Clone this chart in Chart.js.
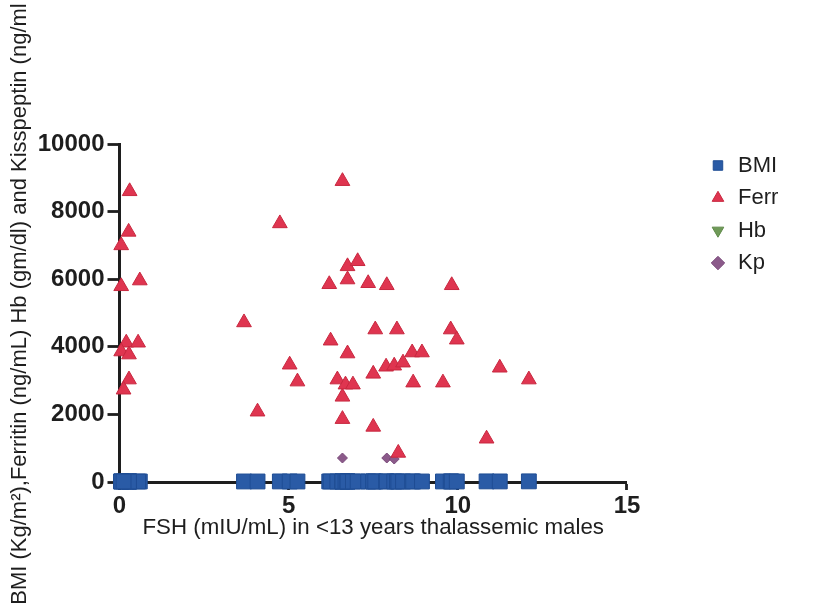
<!DOCTYPE html>
<html><head><meta charset="utf-8">
<script src="https://cdn.jsdelivr.net/npm/chart.js@4.4.1/dist/chart.umd.min.js"></script>
<style>html,body{margin:0;padding:0;background:#fff;overflow:hidden;}#wrap{width:817px;height:613px;}</style>
</head><body><div id="wrap"><canvas id="c" width="817" height="613"></canvas></div>
<script>
// FSH (mIU/mL) of each patient
const fsh  = [0.30,0.27,0.05,0.60,0.05,0.20,0.55,0.05,0.28,0.28,0.12,3.68,4.08,4.74,5.03,5.26,6.20,6.24,6.44,6.59,6.59,6.59,6.68,6.74,6.74,6.74,6.90,7.04,7.35,7.50,7.50,7.56,7.88,7.90,8.12,8.20,8.24,8.38,8.65,8.68,8.94,9.56,9.79,9.82,9.97,10.85,11.24,12.10];
const ferr = [8600,7400,7000,5960,5790,4120,4120,3860,3770,3030,2730,4720,2080,7650,3470,2970,5850,4180,3030,8900,2520,1860,2880,6380,5990,3800,2880,6530,5880,3200,1630,4510,3410,5820,3440,4510,860,3530,3830,2940,3830,2940,4510,5820,4210,1280,3380,3030];
const bmi  = [15,14,16,15,17,14,15,16,15,14,15,16,15,17,16,15,16,15,14,17,16,15,15,16,17,15,14,16,15,17,16,15,16,18,15,16,14,15,17,16,15,16,17,15,16,18,17,19];
const hb   = [9,8,10,9,8,9,10,8,9,9,8,10,9,9,10,8,9,10,9,8,9,10,9,9,8,10,9,9,10,9,8,9,10,9,9,8,9,10,9,9,10,9,8,9,10,9,10,9];
const kp   = [12,20,8,15,10,22,18,9,14,11,16,25,13,30,19,12,21,17,10,24,15,710,13,18,22,16,11,20,14,26,12,19,15,710,680,17,13,21,16,12,18,14,23,15,20,11,17,14];
const seriesNames = ['BMI','Ferr','Hb','Kp'];
const xTicks = [0,5,10,15];
const yTicks = [0,2000,4000,6000,8000,10000];
const xTitle = 'FSH (mIU/mL) in <13 years thalassemic males';
const yTitle = 'BMI (Kg/m\u00B2),Ferritin (ng/mL) Hb (gm/dl) and Kisspeptin (ng/ml';

const FONT = "'Liberation Sans', Arial, Helvetica, sans-serif";
const toPts = vals => vals.map((v, i) => ({x: fsh[i], y: v}));
const TITLE_PAD = {top: 7, bottom: 5};
const TITLE_SIZE = 22;
const titleWidth = TITLE_SIZE * 1.2 + TITLE_PAD.top + TITLE_PAD.bottom;

const axisGrid = (len) => ({display: true, drawOnChartArea: false, drawTicks: true, tickLength: len, tickWidth: 2.8, tickColor: '#1e1e1e'});
const plainLabel = v => String(v);

new Chart(document.getElementById('c'), {
  type: 'scatter',
  data: {
    datasets: [
      {label: seriesNames[0], data: toPts(bmi), pointStyle: 'rect', pointRadius: 10.5, backgroundColor: '#2a5ba6', borderColor: '#1f4d94', borderWidth: 1, clip: false},
      {label: seriesNames[1], data: toPts(ferr), pointStyle: 'triangle', pointRadius: 8.5, backgroundColor: '#df3550', borderColor: '#c8283f', borderWidth: 1, clip: false},
      {label: seriesNames[2], data: toPts(hb), pointStyle: 'triangle', pointRotation: 180, pointRadius: 6, backgroundColor: '#6f9a58', borderColor: '#5f8a4a', borderWidth: 1, clip: false},
      {label: seriesNames[3], data: toPts(kp), pointStyle: 'rectRot', pointRadius: 5, backgroundColor: '#8b5a8a', borderColor: '#7a4a7a', borderWidth: 1, clip: false}
    ]
  },
  options: {
    responsive: false,
    animation: false,
    devicePixelRatio: 1,
    layout: {padding: {left: 0, right: 28.7, top: 0, bottom: 5}},
    scales: {
      x: {
        type: 'linear', position: 'bottom', min: 0, max: 15,
        afterBuildTicks: s => { s.ticks = xTicks.map(v => ({value: v})); },
        ticks: {font: {family: FONT, size: 24, weight: 'bold'}, color: '#1e1e1e', padding: 2, maxRotation: 0, callback: plainLabel},
        grid: axisGrid(8),
        border: {display: true, color: '#1e1e1e', width: 3},
        title: {display: true, text: xTitle, font: {family: FONT, size: 22.3, weight: 'normal'}, color: '#1e1e1e', padding: {top: 0, bottom: 67}},
        afterFit: s => { s.height = 126; }
      },
      y: {
        type: 'linear', position: 'left', min: 0, max: 10000,
        afterBuildTicks: s => { s.ticks = yTicks.map(v => ({value: v})); },
        ticks: {font: {family: FONT, size: 24, weight: 'bold'}, color: '#1e1e1e', padding: 3, callback: plainLabel},
        grid: axisGrid(12),
        border: {display: true, color: '#1e1e1e', width: 3},
        afterFit: s => { s.width = 119.5 - titleWidth; }
      },
      gap: {
        type: 'linear', position: 'right', display: true,
        grid: {display: false, drawTicks: false},
        border: {display: false},
        ticks: {display: false},
        afterFit: s => { s.width = 71.5; }
      }
    },
    plugins: {
      legend: {
        display: true, position: 'right', fullSize: false, align: 'start',
        labels: {usePointStyle: true, boxWidth: 18, boxHeight: 9.5, padding: 10.5, font: {family: FONT, size: 22}, color: '#1e1e1e'}
      },
      title: {
        display: true, position: 'left', fullSize: true, text: yTitle,
        font: {family: FONT, size: TITLE_SIZE, weight: 'normal'}, color: '#1e1e1e', padding: TITLE_PAD
      },
      subtitle: {
        display: true, position: 'top', fullSize: true, text: ' ',
        font: {family: FONT, size: 12}, padding: {top: 129.6, bottom: 0}
      },
      tooltip: {enabled: false}
    }
  }
});
</script>
</body></html>
